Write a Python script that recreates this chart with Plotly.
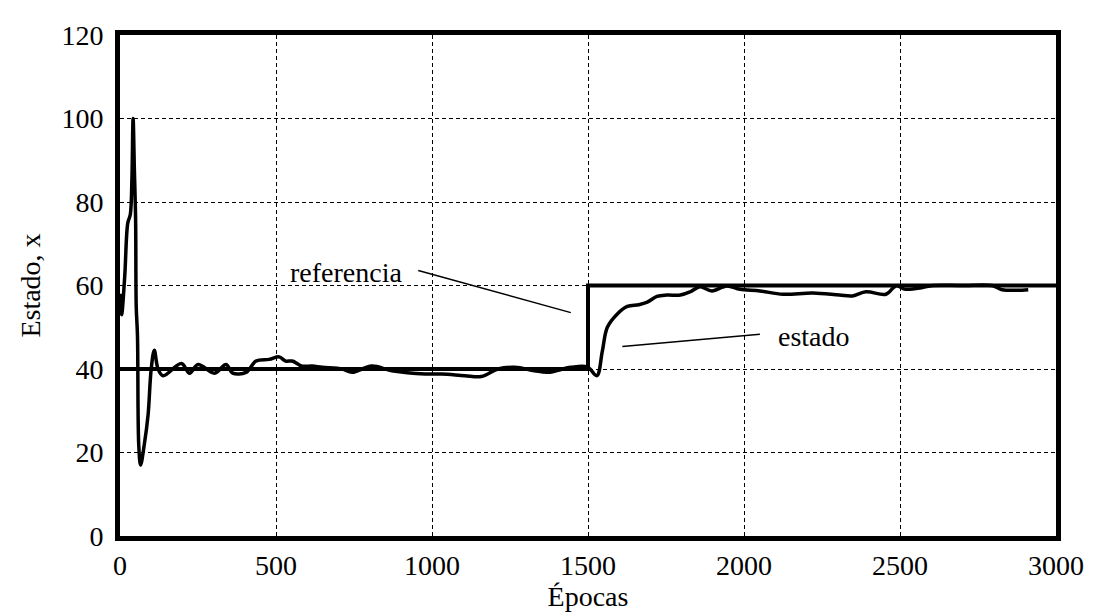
import plotly.graph_objects as go

# referencia (escalón)
ref_x = [0, 1500, 1500, 3000]
ref_y = [40, 40, 60, 60]

# estado
est_x = [0, 5, 15, 25, 33, 38, 42, 46, 50, 52, 56, 60, 66, 78, 90, 100, 110, 122, 138,
         197, 223, 250, 303, 340, 361, 404, 436, 478, 510, 531, 552, 584, 616, 648, 712,
         744, 807, 871, 978, 1031, 1105, 1158, 1211, 1265, 1328, 1371, 1445, 1498,
         1528, 1546, 1562, 1594, 1626, 1663, 1690, 1721, 1753, 1796, 1828, 1859, 1897,
         1945, 1987, 2051, 2125, 2221, 2306, 2348, 2391, 2455, 2487, 2518, 2572, 2604,
         2700, 2795, 2827, 2911]
est_y = [58, 53, 62, 75, 77, 85, 100, 88, 76, 55, 48, 22, 17, 22, 29, 40, 44.5, 40, 38.4,
         41.3, 39, 41.1, 39, 41.1, 39, 39.2, 41.9, 42.3, 42.9, 41.9, 41.9, 40.7, 40.7, 40.4, 40,
         39.2, 40.7, 39.6, 38.8, 38.8, 38.4, 38.2, 40, 40.4, 39.6, 39.2, 40.4, 40.5,
         38.4, 44.3, 50, 53.2, 55, 55.4, 56, 57.4, 57.7, 57.7, 58.5, 59.7, 58.7,
         59.9, 59.1, 58.7, 57.9, 58.2, 57.7, 57.5, 58.5, 57.9, 59.9, 59.1, 59.5, 60,
         60, 60, 59, 59]

x_ticks = [0, 500, 1000, 1500, 2000, 2500, 3000]
y_ticks = [0, 20, 40, 60, 80, 100, 120]

# etiquetas y líneas guía
ref_label = ("referencia", 724, 63)
ref_leader = ([956, 1445], [63.6, 53.5])
est_label = ("estado", 2225, 47.8)
est_leader = ([1610, 2051], [45.4, 48.3])

fuente = "Liberation Serif"
negro = "black"

fig = go.Figure()
fig.add_trace(go.Scatter(x=ref_x, y=ref_y, mode="lines",
                         line=dict(color=negro, width=4), showlegend=False))
fig.add_trace(go.Scatter(x=est_x, y=est_y, mode="lines", line_shape="spline",
                         line=dict(color=negro, width=3.5), showlegend=False))
for lx, ly in (ref_leader, est_leader):
    fig.add_trace(go.Scatter(x=lx, y=ly, mode="lines",
                             line=dict(color=negro, width=1.5), showlegend=False))

for txt, tx, ty in (ref_label, est_label):
    fig.add_annotation(x=tx, y=ty, text=txt, showarrow=False,
                       font=dict(family=fuente, size=28, color=negro))

ejes = dict(showgrid=True, gridcolor=negro, gridwidth=1, griddash="4px,3px",
            showline=True, linecolor=negro, linewidth=5, mirror=True,
            zeroline=False, ticks="",
            tickfont=dict(family=fuente, size=28, color=negro))

fig.update_xaxes(range=[0, 3000], tickvals=x_ticks, **ejes,
                 title=dict(text="Épocas", font=dict(family=fuente, size=28, color=negro),
                            standoff=4))
fig.update_yaxes(range=[0, 120], tickvals=y_ticks, **ejes, ticklabelstandoff=6,
                 title=dict(text="Estado, x", font=dict(family=fuente, size=28, color=negro),
                            standoff=14))

fig.update_layout(width=1096, height=615, plot_bgcolor="white", paper_bgcolor="white",
                  margin=dict(l=112, r=48, t=19, b=87))

fig.write_html("out.html")
